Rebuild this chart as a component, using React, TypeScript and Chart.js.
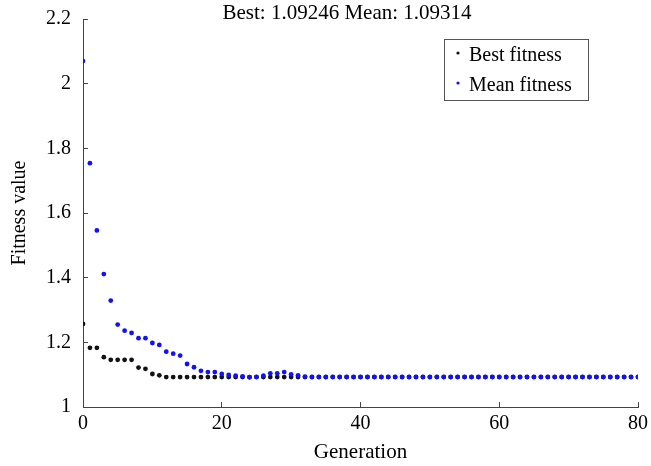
import React, { useEffect, useRef } from 'react';
import { Chart, registerables } from 'chart.js';

Chart.register(...registerables);

const generations = [
  0, 1, 2, 3, 4, 5, 6, 7, 8, 9, 10, 11, 12, 13, 14, 15, 16, 17, 18, 19, 20,
  21, 22, 23, 24, 25, 26, 27, 28, 29, 30, 31, 32, 33, 34, 35, 36, 37, 38, 39, 40,
  41, 42, 43, 44, 45, 46, 47, 48, 49, 50, 51, 52, 53, 54, 55, 56, 57, 58, 59, 60,
  61, 62, 63, 64, 65, 66, 67, 68, 69, 70, 71, 72, 73, 74, 75, 76, 77, 78, 79, 80,
];

const bestFitness = [
  1.257, 1.183, 1.183, 1.154, 1.146, 1.146, 1.146, 1.146, 1.122, 1.118, 1.102,
  1.098, 1.0925, 1.0925, 1.0925, 1.0925, 1.0925, 1.0925, 1.0925, 1.0925, 1.0925,
  1.0925, 1.0925, 1.0925, 1.0925, 1.0925, 1.0925, 1.0925, 1.0925, 1.0925, 1.0925,
  1.0925, 1.0925, 1.0925, 1.0925, 1.0925, 1.0925, 1.0925, 1.0925, 1.0925, 1.0925,
  1.0925, 1.0925, 1.0925, 1.0925, 1.0925, 1.0925, 1.0925, 1.0925, 1.0925, 1.0925,
  1.0925, 1.0925, 1.0925, 1.0925, 1.0925, 1.0925, 1.0925, 1.0925, 1.0925, 1.0925,
  1.0925, 1.0925, 1.0925, 1.0925, 1.0925, 1.0925, 1.0925, 1.0925, 1.0925, 1.0925,
  1.0925, 1.0925, 1.0925, 1.0925, 1.0925, 1.0925, 1.0925, 1.0925, 1.0925, 1.0925,
];

const meanFitness = [
  2.07, 1.754, 1.546, 1.411, 1.329, 1.255, 1.236, 1.229, 1.213, 1.213, 1.198,
  1.192, 1.171, 1.165, 1.159, 1.133, 1.123, 1.112, 1.108, 1.108, 1.102,
  1.099, 1.097, 1.095, 1.092, 1.093, 1.097, 1.104, 1.104, 1.108, 1.101,
  1.098, 1.094, 1.0931, 1.0931, 1.0931, 1.0931, 1.0931, 1.0931, 1.0931, 1.0931,
  1.0931, 1.0931, 1.0931, 1.0931, 1.0931, 1.0931, 1.0931, 1.0931, 1.0931, 1.0931,
  1.0931, 1.0931, 1.0931, 1.0931, 1.0931, 1.0931, 1.0931, 1.0931, 1.0931, 1.0931,
  1.0931, 1.0931, 1.0931, 1.0931, 1.0931, 1.0931, 1.0931, 1.0931, 1.0931, 1.0931,
  1.0931, 1.0931, 1.0931, 1.0931, 1.0931, 1.0931, 1.0931, 1.0931, 1.0931, 1.0931,
];

const xTickValues = [0, 20, 40, 60, 80];
const yTickLabels = ['1', '1.2', '1.4', '1.6', '1.8', '2', '2.2'];
const titleText = 'Best: 1.09246 Mean: 1.09314';
const legendLabels = ['Best fitness', 'Mean fitness'];
const seriesColors = ['#111111', '#1010ff'];

const FONT = "'Liberation Serif', 'Times New Roman', serif";

const overlayPlugin = {
  id: 'overlay',
  afterDraw(chart: any) {
    const { ctx, chartArea } = chart;
    ctx.save();
    // title
    ctx.fillStyle = '#000';
    ctx.font = `21px ${FONT}`;
    ctx.textAlign = 'center';
    ctx.textBaseline = 'alphabetic';
    ctx.fillText(titleText, chartArea.left + 264, chartArea.top);

    // legend box
    const bx = chartArea.right - 194;
    const by = chartArea.top + 20;
    const bw = 144;
    const bh = 61;
    ctx.fillStyle = '#fff';
    ctx.fillRect(bx, by, bw, bh);
    ctx.strokeStyle = '#555';
    ctx.lineWidth = 1;
    ctx.strokeRect(bx + 0.5, by + 0.5, bw, bh);
    ctx.font = `20px ${FONT}`;
    ctx.textAlign = 'left';
    legendLabels.forEach((label, i) => {
      const cy = by + 14 + i * 30;
      ctx.fillStyle = seriesColors[i];
      ctx.beginPath();
      ctx.arc(bx + 14, cy, 1.6, 0, Math.PI * 2);
      ctx.fill();
      ctx.fillStyle = '#000';
      ctx.fillText(label, bx + 25, cy + 8);
    });
    ctx.restore();
  },
};

export default function App() {
  const canvasRef = useRef<HTMLCanvasElement | null>(null);

  useEffect(() => {
    document.body.style.margin = '0';
    const canvas = canvasRef.current;
    if (!canvas) return;
    const chart = new Chart(canvas, {
      type: 'scatter',
      data: {
        datasets: [
          {
            label: legendLabels[0],
            data: generations.map((g, i) => ({ x: g, y: bestFitness[i] })),
            backgroundColor: seriesColors[0],
            borderColor: seriesColors[0],
            pointRadius: 2.4,
            pointBorderWidth: 0,
            showLine: false,
            order: 1,
          },
          {
            label: legendLabels[1],
            data: generations.map((g, i) => ({ x: g, y: meanFitness[i] })),
            backgroundColor: seriesColors[1],
            borderColor: seriesColors[1],
            pointRadius: 2.4,
            pointBorderWidth: 0,
            showLine: false,
            order: 0,
          },
        ],
      },
      options: {
        animation: false,
        responsive: false,
        maintainAspectRatio: false,
        devicePixelRatio: 1,
        layout: { padding: { top: 19, right: 13, left: 0, bottom: 0 } },
        plugins: {
          legend: { display: false },
          title: { display: false },
          tooltip: { enabled: false },
        },
        scales: {
          x: {
            type: 'linear',
            min: 0,
            max: 80,
            afterBuildTicks: (scale: any) => {
              scale.ticks = xTickValues.map((v) => ({ value: v }));
            },
            afterFit: (scale: any) => {
              scale.height = 59;
              scale.paddingLeft = 0;
              scale.paddingRight = 0;
              scale.paddingTop = 0;
              scale.paddingBottom = 0;
            },
            ticks: {
              color: '#000',
              font: { family: FONT, size: 20 },
              padding: 10,
              maxRotation: 0,
              autoSkip: false,
            },
            grid: {
              drawOnChartArea: false,
              drawTicks: true,
              tickLength: -5,
              color: '#444',
            },
            border: { display: true, color: '#444', width: 1 },
            title: {
              display: true,
              text: 'Generation',
              color: '#000',
              font: { family: FONT, size: 21 },
              padding: { top: 0, bottom: 1 },
            },
          },
          y: {
            type: 'linear',
            min: 1,
            max: 2.2,
            afterBuildTicks: (scale: any) => {
              scale.ticks = yTickLabels.map((t) => ({ value: parseFloat(t) }));
            },
            afterFit: (scale: any) => {
              scale.width = 83;
              scale.paddingLeft = 0;
              scale.paddingRight = 0;
              scale.paddingTop = 0;
              scale.paddingBottom = 0;
            },
            ticks: {
              color: '#000',
              font: { family: FONT, size: 20 },
              padding: 17,
              autoSkip: false,
              callback: (_v: any, i: number) => yTickLabels[i],
            },
            grid: {
              drawOnChartArea: false,
              drawTicks: true,
              tickLength: -5,
              color: '#444',
            },
            border: { display: true, color: '#444', width: 1 },
            title: {
              display: true,
              text: 'Fitness value',
              color: '#000',
              font: { family: FONT, size: 20 },
              padding: { top: 8, bottom: 0 },
            },
          },
        },
      },
      plugins: [overlayPlugin],
    });
    return () => chart.destroy();
  }, []);

  return (
    <div style={{ width: 651, height: 466 }}>
      <canvas ref={canvasRef} width={651} height={466} style={{ width: 651, height: 466, display: 'block' }} />
    </div>
  );
}
